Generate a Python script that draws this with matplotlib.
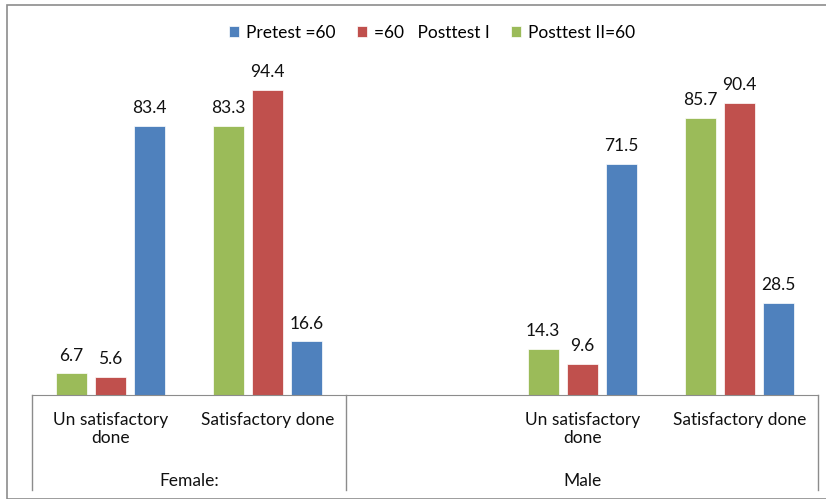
import matplotlib.pyplot as plt
import matplotlib.transforms as mtransforms
from matplotlib.patches import Rectangle
import numpy as np

plt.rcParams['font.family'] = ['Lato', 'DejaVu Sans']

categories = ["Un satisfactory\ndone", "Satisfactory done", "",
              "Un satisfactory\ndone", "Satisfactory done"]
groups = ["Female:", "Male"]
group_centers = [0.5, 3.0]
group_edges = [-0.5, 1.5, 4.5]

# bar order inside each category: Posttest II, Posttest I, Pretest
posttest2 = [6.7, 83.3, None, 14.3, 85.7]
posttest1 = [5.6, 94.4, None, 9.6, 90.4]
pretest = [83.4, 16.6, None, 71.5, 28.5]

fig = plt.figure(figsize=(8.26, 4.99), dpi=100)
W, H = 826, 499
ax = fig.add_axes([32 / W, (H - 395) / H, (818 - 32) / W, (395 - 72) / H])

# outer chart frame
fig.patches.append(Rectangle((7 / W, 0), 1, (H - 5) / H, transform=fig.transFigure,
                             fill=False, edgecolor='#8c8c8c', linewidth=1.2))

x = np.arange(len(categories))
width = 0.197
step = 0.248
series = [("Posttest II=60", posttest2, '#9BBB59'),
          ("=60   Posttest I", posttest1, '#C0504D'),
          ("Pretest =60", pretest, '#4F81BD')]

fs = 12.5
handles = {}
for i, (name, vals, col) in enumerate(series):
    xs = [xi + (i - 1) * step for xi, v in zip(x, vals) if v is not None]
    vs = [v for v in vals if v is not None]
    bars = ax.bar(xs, vs, width=width, color=col, edgecolor='white', linewidth=0.5, label=name)
    handles[name] = bars
    for xb, v in zip(xs, vs):
        ax.text(xb, v + 3.0, f"{v}", ha='center', va='bottom', fontsize=fs, color='#111111')

ax.set_xlim(-0.5, 4.5)
ax.set_ylim(0, 100)
for s in ['top', 'right', 'left']:
    ax.spines[s].set_visible(False)
ax.spines['bottom'].set_color('#8c8c8c')
ax.set_yticks([])
ax.set_xticks(x)
ax.set_xticklabels(categories, fontsize=fs, color='#111111', linespacing=1.2)
ax.tick_params(axis='x', length=0, pad=12)

trans = mtransforms.blended_transform_factory(ax.transData, ax.transAxes)
depth = -(490 - 395) / (395 - 72)
for e in group_edges:
    ax.plot([e, e], [0, depth], transform=trans, color='#8c8c8c', linewidth=1, clip_on=False)
for g, c in zip(groups, group_centers):
    ax.text(c, -(481 - 395) / (395 - 72), g, transform=trans, ha='center', va='center',
            fontsize=fs, color='#111111')

order = ["Pretest =60", "=60   Posttest I", "Posttest II=60"]
fig.legend([handles[n] for n in order], order, loc='center', bbox_to_anchor=(432 / W, (H - 33) / H),
           ncol=3, frameon=False, fontsize=fs, handlelength=0.6, handleheight=0.6,
           handletextpad=0.4, columnspacing=1.2)

fig.savefig("out.png", dpi=100)
